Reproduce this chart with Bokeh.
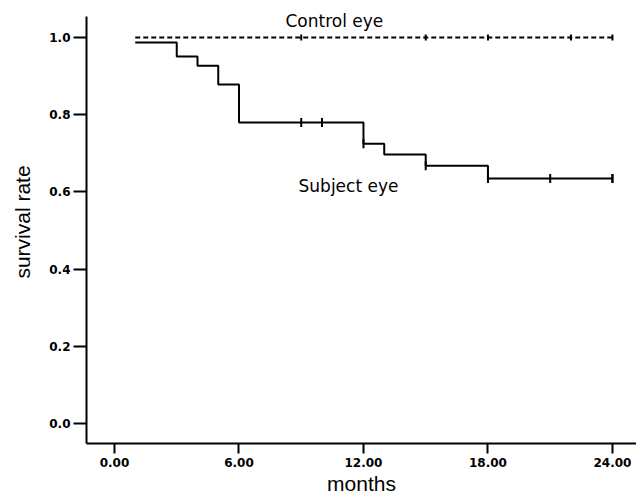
import math
from bokeh.plotting import figure
from bokeh.models import FixedTicker, Range1d, Label
from bokeh.embed import file_html
from bokeh.resources import INLINE

# Subject eye Kaplan-Meier steps
subject_t = [1, 3, 4, 5, 6, 12, 13, 15, 18, 24]
subject_s = [0.987, 0.951, 0.927, 0.878, 0.780, 0.725, 0.697, 0.668, 0.635, 0.635]
subject_cens_t = [9, 10, 12, 15, 18, 21, 24, 24]
subject_cens_s = [0.780, 0.780, 0.725, 0.668, 0.635, 0.635, 0.635, 0.635]

# Control eye
control_t = [1, 24]
control_s = [1.0, 1.0]
control_cens_t = [9, 15, 18, 22, 24]
control_cens_s = [1.0, 1.0, 1.0, 1.0, 1.0]

x_ticks = [0, 6, 12, 18, 24]
x_labels = ["0.00", "6.00", "12.00", "18.00", "24.00"]
y_ticks = [0.0, 0.2, 0.4, 0.6, 0.8, 1.0]
y_labels = ["0.0", "0.2", "0.4", "0.6", "0.8", "1.0"]

p = figure(width=636, height=499, output_backend="svg", toolbar_location=None,
           x_range=Range1d(-1.35, 25.16), y_range=Range1d(-0.052, 1.096),
           min_border_left=86, min_border_right=0, min_border_top=0, min_border_bottom=56)
p.outline_line_color = None
p.grid.visible = False
p.background_fill_color = "white"

p.step(subject_t, subject_s, mode="after", line_color="black", line_width=2)
p.line(control_t, control_s, line_color="black", line_width=2, line_dash="5 3")
p.scatter(subject_cens_t, subject_cens_s, marker="dash", angle=math.pi / 2, size=9,
          line_color="black", line_width=2)
p.scatter(control_cens_t, control_cens_s, marker="dash", angle=math.pi / 2, size=6,
          line_color="black", line_width=2)

p.add_layout(Label(x=8.24, y=1.042, text="Control eye", text_font="DejaVu Sans",
                   text_font_size="17px", text_color="black", text_baseline="alphabetic"))
p.add_layout(Label(x=8.87, y=0.614, text="Subject eye", text_font="DejaVu Sans",
                   text_font_size="17px", text_color="black", text_baseline="alphabetic"))

xa = p.xaxis[0]
xa.ticker = FixedTicker(ticks=x_ticks)
xa.major_label_overrides = {t: l for t, l in zip(x_ticks, x_labels)}
xa.axis_label = "months"
ya = p.yaxis[0]
ya.ticker = FixedTicker(ticks=y_ticks)
ya.major_label_overrides = {t: l for t, l in zip(y_ticks, y_labels)}
ya.axis_label = "survival rate"
ya.bounds = (-0.052, 1.054)

for ax in (xa, ya):
    ax.axis_line_width = 2
    ax.axis_line_color = "black"
    ax.major_tick_line_width = 2
    ax.major_tick_line_color = "black"
    ax.major_tick_in = 0
    ax.minor_tick_line_color = None
    ax.major_label_text_font = "DejaVu Sans"
    ax.major_label_text_font_style = "bold"
    ax.major_label_text_font_size = "12px"
    ax.major_label_text_color = "black"
    ax.axis_label_text_font = "Liberation Sans"
    ax.axis_label_text_font_style = "normal"
    ax.axis_label_text_font_size = "21px"
    ax.axis_label_text_color = "black"

xa.major_tick_out = 10
xa.major_label_standoff = 4
xa.axis_label_standoff = 2
ya.major_tick_out = 13
ya.major_label_standoff = 3
ya.axis_label_standoff = 12

open("out.html", "w").write(file_html(p, INLINE))
